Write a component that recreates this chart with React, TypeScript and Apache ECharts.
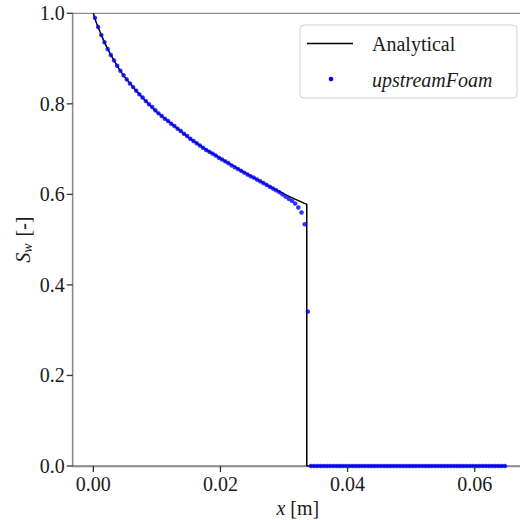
import React, { useEffect, useRef } from "react";
import * as echarts from "echarts";

// Analytical solution
const anaX = [0, 0.0002, 0.0005, 0.00105, 0.00184, 0.00263, 0.0034, 0.0042, 0.005, 0.00578, 0.0068, 0.00787, 0.0089, 0.00997, 0.0113, 0.01259, 0.0139, 0.01522, 0.0165, 0.01784, 0.01915, 0.02046, 0.02308, 0.02571, 0.02833, 0.03095, 0.03358, 0.03358, 0.065];
const anaS = [1.0, 0.99, 0.978, 0.959, 0.933, 0.911, 0.892, 0.874, 0.858, 0.845, 0.828, 0.812, 0.797, 0.782, 0.767, 0.753, 0.738, 0.723, 0.711, 0.698, 0.687, 0.6755, 0.654, 0.633, 0.613, 0.5945, 0.578, 0, 0];

// upstreamFoam cell centres and saturations
const cellX = [
  0.00025, 0.00075, 0.00125, 0.00175, 0.00225, 0.00275, 0.00325, 0.00375, 0.00425, 0.00475,
  0.00525, 0.00575, 0.00625, 0.00675, 0.00725, 0.00775, 0.00825, 0.00875, 0.00925, 0.00975,
  0.01025, 0.01075, 0.01125, 0.01175, 0.01225, 0.01275, 0.01325, 0.01375, 0.01425, 0.01475,
  0.01525, 0.01575, 0.01625, 0.01675, 0.01725, 0.01775, 0.01825, 0.01875, 0.01925, 0.01975,
  0.02025, 0.02075, 0.02125, 0.02175, 0.02225, 0.02275, 0.02325, 0.02375, 0.02425, 0.02475,
  0.02525, 0.02575, 0.02625, 0.02675, 0.02725, 0.02775, 0.02825, 0.02875, 0.02925, 0.02975,
  0.03025, 0.03075, 0.03125, 0.03175, 0.03225, 0.03275, 0.03325, 0.03375, 0.03425, 0.03475,
  0.03525, 0.03575, 0.03625, 0.03675, 0.03725, 0.03775, 0.03825, 0.03875, 0.03925, 0.03975,
  0.04025, 0.04075, 0.04125, 0.04175, 0.04225, 0.04275, 0.04325, 0.04375, 0.04425, 0.04475,
  0.04525, 0.04575, 0.04625, 0.04675, 0.04725, 0.04775, 0.04825, 0.04875, 0.04925, 0.04975,
  0.05025, 0.05075, 0.05125, 0.05175, 0.05225, 0.05275, 0.05325, 0.05375, 0.05425, 0.05475,
  0.05525, 0.05575, 0.05625, 0.05675, 0.05725, 0.05775, 0.05825, 0.05875, 0.05925, 0.05975,
  0.06025, 0.06075, 0.06125, 0.06175, 0.06225, 0.06275, 0.06325, 0.06375, 0.06425, 0.06475,
];
const cellSw = [
  0.99, 0.97, 0.952, 0.936, 0.921, 0.908, 0.896, 0.884, 0.873, 0.863,
  0.854, 0.845, 0.837, 0.829, 0.821, 0.814, 0.806, 0.799, 0.793, 0.786,
  0.779, 0.773, 0.767, 0.762, 0.756, 0.751, 0.745, 0.74, 0.734, 0.729,
  0.723, 0.718, 0.713, 0.708, 0.703, 0.698, 0.694, 0.69, 0.686, 0.681,
  0.677, 0.673, 0.669, 0.664, 0.66, 0.656, 0.652, 0.648, 0.644, 0.64,
  0.637, 0.633, 0.629, 0.625, 0.621, 0.617, 0.613, 0.609, 0.605, 0.6,
  0.595, 0.59, 0.586, 0.58, 0.571, 0.56, 0.534, 0.341, 0, 0,
  0, 0, 0, 0, 0, 0, 0, 0, 0, 0,
  0, 0, 0, 0, 0, 0, 0, 0, 0, 0,
  0, 0, 0, 0, 0, 0, 0, 0, 0, 0,
  0, 0, 0, 0, 0, 0, 0, 0, 0, 0,
  0, 0, 0, 0, 0, 0, 0, 0, 0, 0,
  0, 0, 0, 0, 0, 0, 0, 0, 0, 0,
];

const xTicks = [0, 0.02, 0.04, 0.06];
const yTicks = [0, 0.2, 0.4, 0.6, 0.8, 1.0];
const seriesNames = ["Analytical", "upstreamFoam"];

const FONT = "'Liberation Serif', 'DejaVu Serif', serif";
const TXT = "#1a1a1a";
const SPINE = "#8a8a8a";
const TICK = "#333333";
const X_MIN = -0.00325;
const X_MAX = 0.0676;

export default function App() {
  const ref = useRef<HTMLDivElement>(null);
  useEffect(() => {
    if (!ref.current) return;
    const chart = echarts.init(ref.current, null, { renderer: "svg" });
    const legendGraphics: any[] = [
      {
        type: "rect",
        shape: { x: 300, y: 25, width: 217, height: 73, r: 4 },
        style: { fill: "rgba(255,255,255,0.85)", stroke: "#d0d0d0", lineWidth: 1 },
        z: 10,
      },
      {
        type: "line",
        shape: { x1: 307, y1: 43.5, x2: 353, y2: 43.5 },
        style: { stroke: "#000", lineWidth: 1.5 },
        z: 11,
      },
      {
        type: "circle",
        shape: { cx: 331, cy: 79, r: 2.3 },
        style: { fill: "#0000ff" },
        z: 11,
      },
      {
        type: "text",
        x: 372,
        y: 44,
        style: { text: seriesNames[0], fontSize: 20, fontFamily: FONT, fill: TXT, verticalAlign: "middle" },
        z: 11,
      },
      {
        type: "text",
        x: 372,
        y: 80,
        style: { text: seriesNames[1], fontSize: 20, fontFamily: FONT, fontStyle: "italic", fill: TXT, verticalAlign: "middle" },
        z: 11,
      },
    ];
    const option: any = {
      animation: false,
      backgroundColor: "#ffffff",
      grid: {
        left: 72.7,
        top: 13.3,
        right: -3,
        bottom: 54,
        show: true,
        borderColor: SPINE,
        borderWidth: 1.3,
        containLabel: false,
        outerBoundsMode: "none",
      },
      xAxis: {
        type: "value",
        min: X_MIN,
        max: X_MAX,
        splitLine: { show: false },
        axisLine: { show: true, onZero: false, lineStyle: { color: SPINE, width: 1.3 } },
        axisTick: { show: false },
        axisLabel: {
          customValues: xTicks,
          formatter: (v: number) => v.toFixed(2),
          fontSize: 20,
          fontFamily: FONT,
          color: TXT,
          margin: 8,
        },
        name: "{i|x} [m]",
        nameLocation: "middle",
        nameGap: 32,
        nameMoveOverlap: false,
        nameTextStyle: {
          fontSize: 20,
          fontFamily: FONT,
          color: TXT,
          rich: { i: { fontSize: 20, fontFamily: FONT, fontStyle: "italic", color: TXT } },
        },
      },
      yAxis: {
        type: "value",
        min: 0,
        max: 1,
        interval: 0.2,
        splitLine: { show: false },
        axisLine: { show: true, onZero: false, lineStyle: { color: SPINE, width: 1.3 } },
        axisTick: { show: false },
        axisLabel: {
          formatter: (v: number) => v.toFixed(1),
          fontSize: 20,
          fontFamily: FONT,
          color: TXT,
          margin: 8,
        },
        name: "{i|S}{sub|w} [-]",
        nameLocation: "middle",
        nameGap: 38,
        nameMoveOverlap: false,
        nameRotate: 90,
        nameTextStyle: {
          fontSize: 20,
          fontFamily: FONT,
          color: TXT,
          rich: {
            i: { fontSize: 20, fontFamily: FONT, fontStyle: "italic", color: TXT },
            sub: { fontSize: 14, fontFamily: FONT, fontStyle: "italic", color: TXT, verticalAlign: "bottom", padding: [10, 2, 0, 0] },
          },
        },
      },
      series: [
        {
          name: seriesNames[0],
          type: "line",
          data: anaX.map((x, i) => [x, anaS[i]]),
          symbol: "none",
          lineStyle: { color: "#000", width: 1.5 },
          z: 2,
        },
        {
          name: seriesNames[1],
          type: "scatter",
          data: cellX.map((x, i) => [x, cellSw[i]]),
          symbolSize: 4.5,
          itemStyle: { color: "#0000ff" },
          z: 3,
        },
        {
          name: "yTickMarks",
          type: "custom",
          clip: false,
          silent: true,
          z: 5,
          data: yTicks.map((v) => [X_MIN, v]),
          renderItem: (_params: any, api: any) => {
            const c = api.coord([api.value(0), api.value(1)]);
            return {
              type: "line",
              shape: { x1: c[0] - 6, y1: c[1], x2: c[0], y2: c[1] },
              style: { stroke: TICK, lineWidth: 1.3 },
            };
          },
        },
        {
          name: "xTickMarks",
          type: "custom",
          clip: false,
          silent: true,
          z: 5,
          data: xTicks.map((v) => [v, 0]),
          renderItem: (_params: any, api: any) => {
            const c = api.coord([api.value(0), api.value(1)]);
            return {
              type: "line",
              shape: { x1: c[0], y1: c[1], x2: c[0], y2: c[1] + 6 },
              style: { stroke: TICK, lineWidth: 1.3 },
            };
          },
        },
      ],
      graphic: legendGraphics,
    };
    chart.setOption(option);
    return () => chart.dispose();
  }, []);
  return <div ref={ref} style={{ width: 520, height: 520, position: "absolute", left: 0, top: 0 }} />;
}
